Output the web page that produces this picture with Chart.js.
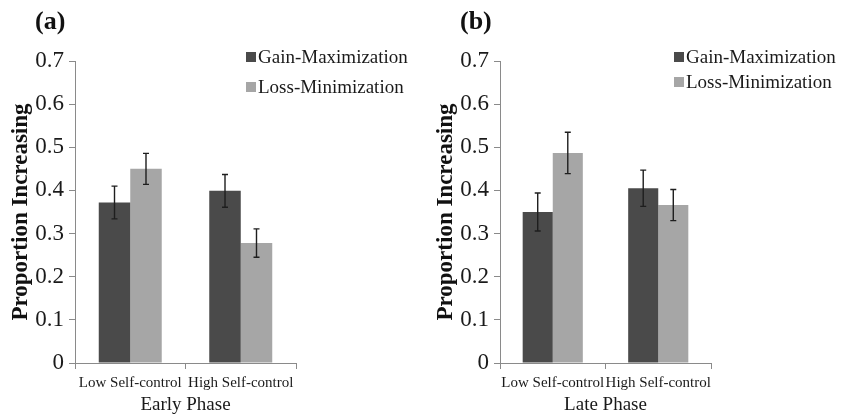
<!DOCTYPE html>
<html>
<head>
<meta charset="utf-8">
<script src="https://cdn.jsdelivr.net/npm/chart.js@4.4.1/dist/chart.umd.min.js"></script>
<style>
  html, body { margin: 0; padding: 0; background: #fff; }
  #wrap { display: flex; width: 842px; height: 416px; }
  canvas { display: block; }
</style>
</head>
<body>
<div id="wrap">
  <canvas id="early" width="421" height="416"></canvas>
  <canvas id="late" width="421" height="416"></canvas>
</div>
<script>
// values
const groups = ['Low Self-control', 'High Self-control'];
const seriesNames = ['Gain-Maximization', 'Loss-Minimization'];
const yTickLabels = ['0', '0.1', '0.2', '0.3', '0.4', '0.5', '0.6', '0.7'];

const earlyGain = [0.372, 0.399];
const earlyLoss = [0.450, 0.278];
const earlyGainErr = [0.038, 0.038];
const earlyLossErr = [0.036, 0.033];

const lateGain = [0.350, 0.405];
const lateLoss = [0.487, 0.366];
const lateGainErr = [0.044, 0.042];
const lateLossErr = [0.048, 0.036];

const dark = '#4a4a4a';
const light = '#a6a6a6';
const serif = "'Liberation Serif', 'Times New Roman', serif";

// error bars drawn on top of each bar
const errorBars = {
  id: 'errorBars',
  afterDatasetsDraw(chart) {
    const ctx = chart.ctx;
    const y = chart.scales.y;
    ctx.save();
    ctx.strokeStyle = '#1e1e1e';
    ctx.lineWidth = 1.4;
    chart.data.datasets.forEach((ds, i) => {
      chart.getDatasetMeta(i).data.forEach((bar, j) => {
        const v = ds.data[j], e = ds.errors[j];
        const top = y.getPixelForValue(v + e);
        const bot = y.getPixelForValue(v - e);
        ctx.beginPath();
        ctx.moveTo(bar.x, top); ctx.lineTo(bar.x, bot);
        ctx.moveTo(bar.x - 3, top); ctx.lineTo(bar.x + 3, top);
        ctx.moveTo(bar.x - 3, bot); ctx.lineTo(bar.x + 3, bot);
        ctx.stroke();
      });
    });
    ctx.restore();
  }
};

// panel letter and the legend in its own spot
const decor = {
  id: 'decor',
  afterDraw(chart, args, opts) {
    const ctx = chart.ctx;
    ctx.save();
    ctx.fillStyle = '#111';
    ctx.textBaseline = 'middle';
    ctx.textAlign = 'left';
    ctx.font = 'bold 26px ' + serif;
    ctx.fillText(opts.letter, opts.letterX, opts.letterY);
    ctx.font = '19px ' + serif;
    chart.data.datasets.forEach((ds, i) => {
      const cy = opts.legY + i * opts.legStep;
      ctx.fillStyle = ds.backgroundColor;
      ctx.fillRect(opts.legX, cy - 5, 10, 10);
      ctx.fillStyle = '#1a1a1a';
      ctx.fillText(ds.label, opts.legX + 12, cy + 1);
    });
    ctx.restore();
  }
};

function makeChart(id, gain, loss, gainErr, lossErr, title, pad, axisW, decorOpts) {
  return new Chart(document.getElementById(id), {
    type: 'bar',
    data: {
      labels: groups,
      datasets: [
        { label: seriesNames[0], data: gain, errors: gainErr, backgroundColor: dark,
          categoryPercentage: 0.57, barPercentage: 1.0 },
        { label: seriesNames[1], data: loss, errors: lossErr, backgroundColor: light,
          categoryPercentage: 0.57, barPercentage: 1.0 }
      ]
    },
    options: {
      responsive: false,
      animation: false,
      layout: { padding: pad },
      plugins: {
        legend: { display: false },
        tooltip: { enabled: false },
        decor: decorOpts
      },
      scales: {
        x: {
          afterFit: s => { s.height = 416 - 363 - pad.bottom; },
          grid: { drawOnChartArea: false, offset: true, tickLength: 6, color: '#8a8a8a' },
          border: { color: '#8a8a8a' },
          ticks: { color: '#1a1a1a', padding: 5, maxRotation: 0, minRotation: 0, autoSkip: false,
                   font: { family: serif, size: 15 } },
          title: { display: true, text: title, color: '#1a1a1a', padding: 0,
                   font: { family: serif, size: 19 } }
        },
        y: {
          min: 0, max: 0.7,
          afterFit: s => { s.width = axisW; },
          grid: { drawOnChartArea: false, tickLength: 6, color: '#8a8a8a' },
          border: { color: '#8a8a8a' },
          ticks: { stepSize: 0.1, color: '#1a1a1a', padding: 5,
                   font: { family: serif, size: 23 },
                   callback: (v, i) => yTickLabels[i] },
          title: { display: true, text: 'Proportion Increasing', color: '#111', padding: 0,
                   font: { family: serif, size: 23, weight: 'bold' } }
        }
      }
    },
    plugins: [errorBars, decor]
  });
}

makeChart('early', earlyGain, earlyLoss, earlyGainErr, earlyLossErr, 'Early Phase',
  { top: 61, right: 125, bottom: 0, left: 7 }, 68,
  { letter: '(a)', letterX: 35, letterY: 22, legX: 246, legY: 57, legStep: 30 });

makeChart('late', lateGain, lateLoss, lateGainErr, lateLossErr, 'Late Phase',
  { top: 61, right: 131, bottom: 0, left: 11 }, 68,
  { letter: '(b)', letterX: 39, letterY: 22, legX: 253, legY: 57, legStep: 25 });
</script>
</body>
</html>
